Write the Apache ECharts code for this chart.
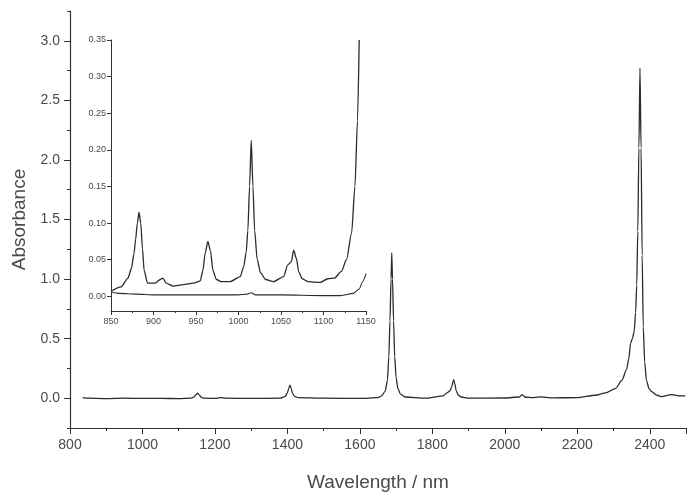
<!DOCTYPE html>
<html>
<head>
<meta charset="utf-8">
<script src="https://cdn.jsdelivr.net/npm/echarts@6/dist/echarts.min.js"></script>
<style>
  html, body { margin: 0; padding: 0; background: #fff; }
  #chart { width: 689px; height: 498px; }
</style>
</head>
<body>
<div id="chart"></div>
<script>
// main spectrum, wavelength (nm) / absorbance
var mainWl = [835, 850, 900, 950, 1000, 1050, 1100, 1135, 1143, 1148, 1152, 1156, 1162, 1170, 1200, 1215, 1230, 1300,
    1380, 1394, 1400, 1404, 1407, 1410, 1414, 1420, 1430, 1500, 1600, 1650, 1660, 1670, 1676, 1680, 1683, 1686,
    1688, 1690, 1693, 1696, 1700, 1705, 1712, 1725, 1780, 1830, 1840, 1848, 1854, 1857, 1859, 1862, 1866, 1872,
    1880, 1900, 2000, 2040, 2048, 2056, 2080, 2101, 2130, 2200, 2250, 2278, 2305, 2323, 2336, 2342, 2347, 2352,
    2357, 2361, 2364, 2367, 2370, 2373, 2376, 2379, 2382, 2386, 2391, 2398, 2405, 2420, 2432, 2460, 2480, 2498];
var mainAbs = [0.005, 0.0, -0.003, 0.0, -0.002, -0.002, -0.003, 0.0, 0.012, 0.03, 0.043, 0.03, 0.008, 0.0, -0.002, 0.005, 0.0, -0.002,
    0.0, 0.015, 0.045, 0.085, 0.11, 0.085, 0.04, 0.015, 0.005, 0.0, -0.002, 0.005, 0.02, 0.06, 0.15, 0.35, 0.65, 1.0,
    1.22, 1.0, 0.65, 0.35, 0.17, 0.08, 0.035, 0.01, 0.0, 0.02, 0.045, 0.06, 0.1, 0.14, 0.155, 0.12, 0.06, 0.025,
    0.01, 0.0, 0.002, 0.01, 0.03, 0.008, 0.005, 0.012, 0.003, 0.005, 0.025, 0.045, 0.08, 0.15, 0.24, 0.33, 0.46, 0.5,
    0.56, 0.72, 0.95, 1.4, 2.1, 2.77, 2.1, 1.2, 0.6, 0.3, 0.15, 0.08, 0.055, 0.025, 0.013, 0.03, 0.02, 0.02];

// inset, upper trace
var insetWl = [850, 862, 870, 874, 877, 879, 881, 883, 885, 887, 889, 893, 902, 908, 911, 915, 923, 935, 947, 955,
    958, 961, 964, 967, 970, 974, 980, 990, 1002, 1006, 1009, 1011, 1013, 1015, 1017, 1019, 1022, 1026, 1032,
    1041, 1053, 1058, 1062, 1065, 1068, 1071, 1075, 1082, 1096, 1105, 1113, 1121, 1127, 1133, 1137, 1140, 1142];
var insetAbs = [0.007, 0.013, 0.025, 0.038, 0.058, 0.078, 0.1, 0.115, 0.1, 0.065, 0.035, 0.018, 0.018, 0.023, 0.025,
    0.018, 0.014, 0.016, 0.018, 0.021, 0.035, 0.06, 0.075, 0.062, 0.035, 0.023, 0.02, 0.02, 0.027, 0.04, 0.06,
    0.09, 0.15, 0.213, 0.15, 0.09, 0.05, 0.032, 0.023, 0.02, 0.027, 0.043, 0.047, 0.063, 0.052, 0.033, 0.024,
    0.02, 0.019, 0.024, 0.025, 0.034, 0.05, 0.086, 0.15, 0.24, 0.35];

// inset, lower trace
var lowWl = [850, 860, 880, 900, 930, 960, 1000, 1010, 1015, 1020, 1050, 1100, 1120, 1135, 1142, 1146, 1150];
var lowAbs = [0.006, 0.004, 0.003, 0.002, 0.002, 0.002, 0.002, 0.003, 0.005, 0.002, 0.002, 0.001, 0.001, 0.004, 0.01, 0.02, 0.031];

var mainYTicks = [0, 0.5, 1.0, 1.5, 2.0, 2.5, 3.0];
var insetYTicks = [0, 0.05, 0.10, 0.15, 0.20, 0.25, 0.30, 0.35];

function pairs(xs, ys) {
    return xs.map(function (x, i) { return [x, ys[i]]; });
}

var axisCol = '#333';
var txtCol = '#4a4a4a';
var font = 'Liberation Sans, Arial, sans-serif';

var chart = echarts.init(document.getElementById('chart'));
chart.setOption({
    animation: false,
    backgroundColor: '#fff',
    grid: [
        {left: 70, right: 3, top: 11, bottom: 70},
        {left: 111, top: 40, width: 255, height: 271}
    ],
    xAxis: [
        {
            gridIndex: 0, type: 'value', min: 800, max: 2500, interval: 200,
            name: 'Wavelength / nm', nameLocation: 'middle', nameGap: 45,
            nameTextStyle: {fontSize: 19, color: txtCol, fontFamily: font},
            axisLine: {onZero: false, lineStyle: {color: axisCol, width: 1.2}},
            axisTick: {length: 6, lineStyle: {color: axisCol}},
            minorTick: {show: true, splitNumber: 2, length: 3, lineStyle: {color: axisCol}},
            axisLabel: {fontSize: 14, color: txtCol, fontFamily: font, margin: 10, showMaxLabel: false,
                formatter: function (v) { return String(v); }},
            splitLine: {show: false}
        },
        {
            gridIndex: 1, type: 'value', min: 850, max: 1150, interval: 50,
            axisLine: {onZero: false, lineStyle: {color: axisCol, width: 1}},
            axisTick: {length: 4, lineStyle: {color: axisCol}},
            minorTick: {show: true, splitNumber: 2, length: 2, lineStyle: {color: axisCol}},
            axisLabel: {fontSize: 9, color: txtCol, fontFamily: font, margin: 6,
                formatter: function (v) { return String(v); }},
            splitLine: {show: false}
        }
    ],
    yAxis: [
        {
            gridIndex: 0, type: 'value', min: -0.25, max: 3.25, position: 'left',
            name: 'Absorbance', nameLocation: 'middle', nameGap: 41,
            nameTextStyle: {fontSize: 19, color: txtCol, fontFamily: font},
            axisLine: {onZero: false, lineStyle: {color: axisCol, width: 1.2}},
            axisTick: {length: 6, customValues: mainYTicks, lineStyle: {color: axisCol}},
            axisLabel: {fontSize: 14, color: txtCol, fontFamily: font, margin: 10, customValues: mainYTicks,
                formatter: function (v) { return v.toFixed(1); }},
            splitLine: {show: false}
        },
        {
            // minor ticks of the main y axis
            gridIndex: 0, type: 'value', min: -0.25, max: 3.25, interval: 0.25,
            position: 'left', offset: 0,
            axisLine: {show: false, onZero: false},
            axisTick: {length: 3, lineStyle: {color: axisCol}},
            axisLabel: {show: false},
            splitLine: {show: false}
        },
        {
            gridIndex: 1, type: 'value', min: -0.02, max: 0.35, position: 'left',
            axisLine: {onZero: false, lineStyle: {color: axisCol, width: 1}},
            axisTick: {length: 4, customValues: insetYTicks, lineStyle: {color: axisCol}},
            axisLabel: {fontSize: 9, color: txtCol, fontFamily: font, margin: 5, customValues: insetYTicks,
                formatter: function (v) { return v.toFixed(2); }},
            splitLine: {show: false}
        }
    ],
    series: [
        {
            type: 'line', xAxisIndex: 0, yAxisIndex: 0, data: pairs(mainWl, mainAbs),
            showSymbol: false, smooth: 0.25, smoothMonotone: 'x',
            lineStyle: {color: '#2b2b2b', width: 1.3}
        },
        {
            type: 'line', xAxisIndex: 1, yAxisIndex: 2, data: pairs(insetWl, insetAbs),
            showSymbol: false, smooth: 0.25, smoothMonotone: 'x',
            lineStyle: {color: '#2b2b2b', width: 1.3}
        },
        {
            type: 'line', xAxisIndex: 1, yAxisIndex: 2, data: pairs(lowWl, lowAbs),
            showSymbol: false, smooth: 0.25, smoothMonotone: 'x',
            lineStyle: {color: '#2b2b2b', width: 1.1}
        }
    ]
});
</script>
</body>
</html>
